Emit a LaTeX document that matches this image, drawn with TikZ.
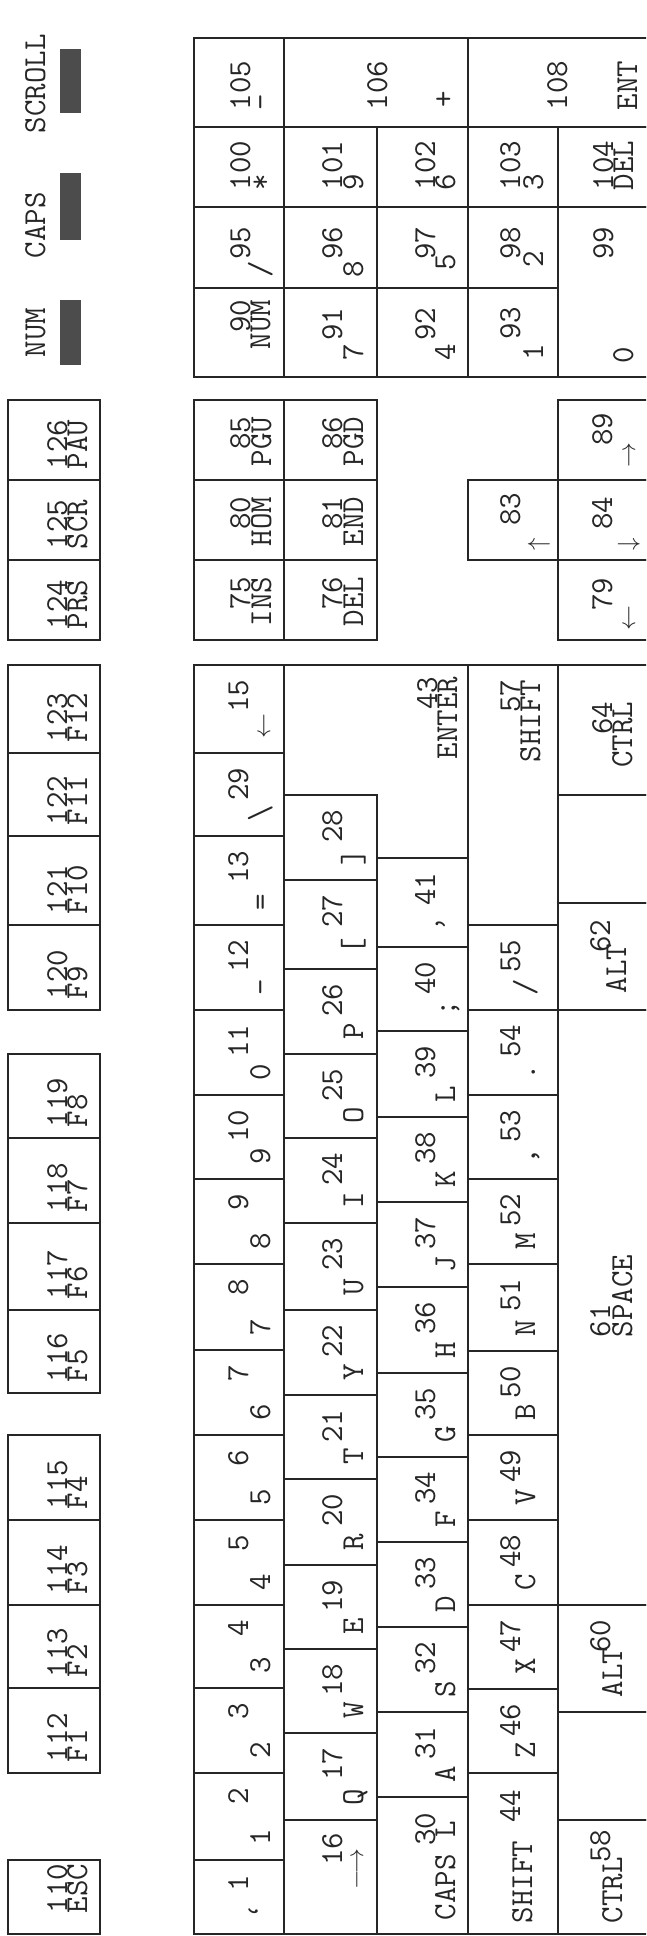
\documentclass[tikz,border=0pt]{standalone}
\usepackage{fontspec}
\newcommand\kf{\ttfamily\fontsize{32}{32}\selectfont\addfontfeature{LetterSpace=9,FakeBold=1.2}}
\newcounter{lb}
\tikzset{
  kb/.style={draw=black!85, line width=1.6pt},
  led/.style={fill=black!70},
  lbl/.style={font=\kf, inner sep=0pt, outer sep=0pt, rotate=90, text=black!85},
}
% label starting (bottom end) at Y, baseline at X
\newcommand\Lw[3]{\stepcounter{lb}\node[lbl,anchor=base west] (l\arabic{lb}) at (#1,#2) {#3};}
% label ending (top end) at Y
\newcommand\Le[3]{\stepcounter{lb}\node[lbl,anchor=base east] (l\arabic{lb}) at (#1,#2) {#3};}
% function key: top, bottom, number, legend
\newcommand\Fk[4]{\draw[kb] (8,#1) rectangle (100,#2);\Lw{67}{#2-11}{#3}\Lw{87}{#2-11}{#4}}
% nav key: x1,x2,top,bot,numbase,legbase,num,leg (right aligned)
\newcommand\Nk[8]{\draw[kb] (#1,#3) rectangle (#2,#4);\Le{#5}{#3+17}{#7}\Le{#6}{#3+17}{#8}}
% main block keys: top, bottom, legend, number
\newcommand\Kg[8]{\draw[kb] (#1,#5) rectangle (#2,#6);\Le{#3}{#5+15}{#8}\Lw{#4}{#6-15}{#7}}
\newcommand\Ra[4]{\Kg{194}{284}{248}{270}{#1}{#2}{#3}{#4}}
\newcommand\Rb[4]{\Kg{284}{377}{342}{363}{#1}{#2}{#3}{#4}}
\newcommand\Rc[4]{\Kg{377}{468}{435}{455}{#1}{#2}{#3}{#4}}
\newcommand\Rd[4]{\Kg{468}{558}{520}{535}{#1}{#2}{#3}{#4}}
\begin{document}
\begin{tikzpicture}[x=1pt,y=-1pt]
\useasboundingbox (0,0) rectangle (646,1936);
\clip (0,0) rectangle (646,1936);

% ---------- indicator lights ----------
\Lw{45}{133}{SCROLL}
\fill[led] (60,49) rectangle (81,113);
\Lw{45}{258}{CAPS}
\fill[led] (60,173) rectangle (81,240);
\Lw{45}{357}{NUM}
\fill[led] (60,300) rectangle (81,365);

% ---------- function row ----------
\draw[kb] (8,1860) rectangle (100,1934);
\Lw{67}{1913}{110}\Lw{87}{1913}{ESC}
\Fk{1688}{1773}{112}{F1}
\Fk{1605}{1688}{113}{F2}
\Fk{1520}{1605}{114}{F3}
\Fk{1435}{1520}{115}{F4}
\Fk{1310}{1393}{116}{F5}
\Fk{1223}{1310}{117}{F6}
\Fk{1138}{1223}{118}{F7}
\Fk{1054}{1138}{119}{F8}
\Fk{925}{1010}{120}{F9}
\Fk{836}{925}{121}{F10}
\Fk{753}{836}{122}{F11}
\Fk{665}{753}{123}{F12}
\Fk{560}{640}{124}{PRS}
\Fk{480}{560}{125}{SCR}
\Fk{400}{480}{126}{PAU}

% ---------- navigation block ----------
\Nk{194}{284}{560}{640}{250}{271}{75}{INS}
\Nk{194}{284}{480}{560}{250}{271}{80}{HOM}
\Nk{194}{284}{400}{480}{250}{271}{85}{PGU}
\Nk{284}{377}{560}{640}{342}{363}{76}{DEL}
\Nk{284}{377}{480}{560}{342}{363}{81}{END}
\Nk{284}{377}{400}{480}{342}{363}{86}{PGD}

% ---------- arrow keys ----------
\draw[kb] (468,480) rectangle (558,560);
\Le{520}{493}{83}\Lw{545}{550}{\(\uparrow\)}
\draw[kb] (558,560) rectangle (648,640);
\Le{612}{578}{79}\Lw{635}{630}{\(\leftarrow\)}
\draw[kb] (558,480) rectangle (648,560);
\Le{612}{497}{84}\Lw{635}{550}{\(\downarrow\)}
\draw[kb] (558,400) rectangle (648,480);
\Le{612}{413}{89}\Lw{635}{467}{\(\rightarrow\)}

% ---------- numeric keypad ----------
\draw[kb] (194,288) rectangle (284,377);
\Le{250}{300}{90}\Le{270}{300}{NUM}
\draw[kb] (194,207) rectangle (284,288);
\Le{250}{227}{95}\Lw{270}{277}{/}
\draw[kb] (194,127) rectangle (284,207);
\Lw{250}{190}{100}\Lw{270}{190}{*}
\draw[kb] (194,38) rectangle (284,127);
\Lw{250}{110}{105}\Lw{270}{110}{-}

\draw[kb] (284,288) rectangle (377,377);
\Le{342}{308}{91}\Lw{363}{360}{7}
\draw[kb] (284,207) rectangle (377,288);
\Le{342}{227}{96}\Lw{363}{277}{8}
\draw[kb] (284,127) rectangle (377,207);
\Lw{342}{190}{101}\Lw{363}{190}{9}
\draw[kb] (284,38) rectangle (468,127);
\Lw{387}{110}{106}\Lw{453}{107}{+}

\draw[kb] (377,288) rectangle (468,377);
\Le{435}{308}{92}\Lw{455}{360}{4}
\draw[kb] (377,207) rectangle (468,288);
\Le{435}{227}{97}\Lw{455}{270}{5}
\draw[kb] (377,127) rectangle (468,207);
\Lw{435}{190}{102}\Lw{455}{190}{6}

\draw[kb] (468,288) rectangle (558,377);
\Le{520}{307}{93}\Lw{543}{360}{1}
\draw[kb] (468,207) rectangle (558,288);
\Le{520}{227}{98}\Lw{543}{267}{2}
\draw[kb] (468,127) rectangle (558,207);
\Lw{520}{190}{103}\Lw{543}{190}{3}
\draw[kb] (468,38) rectangle (648,127);
\Lw{567}{110}{108}\Lw{637}{110}{ENT}

\draw[kb] (558,207) rectangle (648,377);
\Le{613}{227}{99}\Lw{633}{363}{0}
\draw[kb] (558,127) rectangle (648,207);
\Lw{613}{190}{104}\Lw{633}{190}{DEL}

% ---------- main block, row 1 ----------
\Ra{1860}{1934}{‘}{1}
\Ra{1773}{1860}{1}{2}
\Ra{1688}{1773}{2}{3}
\Ra{1605}{1688}{3}{4}
\Ra{1520}{1605}{4}{5}
\Ra{1435}{1520}{5}{6}
\Ra{1350}{1435}{6}{7}
\Ra{1264}{1350}{7}{8}
\Ra{1179}{1264}{8}{9}
\Ra{1095}{1179}{9}{10}
\Ra{1010}{1095}{0}{11}
\Ra{925}{1010}{-}{12}
\Ra{836}{925}{=}{13}
\Ra{753}{836}{\textbackslash}{29}
\Ra{665}{753}{\(\leftarrow\)}{15}

% ---------- row 2 ----------
\draw[kb] (284,1820) rectangle (377,1934);
\Le{342}{1833}{16}\Lw{363}{1889}{\(\longrightarrow\)}
\Rb{1733}{1820}{Q}{17}
\Rb{1649}{1733}{W}{18}
\Rb{1565}{1649}{E}{19}
\Rb{1479}{1565}{R}{20}
\Rb{1395}{1479}{T}{21}
\Rb{1310}{1395}{Y}{22}
\Rb{1223}{1310}{U}{23}
\Rb{1138}{1223}{I}{24}
\Rb{1054}{1138}{O}{25}
\Rb{969}{1054}{P}{26}
\Rb{880}{969}{[}{27}
\Rb{795}{880}{]}{28}

% ---------- row 3 ----------
\draw[kb] (377,1797) rectangle (468,1934);
\Lw{455}{1920}{CAPS L}\Le{435}{1813}{30}
\Rc{1712}{1797}{A}{31}
\Rc{1627}{1712}{S}{32}
\Rc{1542}{1627}{D}{33}
\Rc{1457}{1542}{F}{34}
\Rc{1373}{1457}{G}{35}
\Rc{1287}{1373}{H}{36}
\Rc{1202}{1287}{J}{37}
\Rc{1117}{1202}{K}{38}
\Rc{1031}{1117}{L}{39}
\Rc{947}{1031}{;}{40}
\Rc{858}{947}{’}{41}
% enter
\draw[kb] (284,665) -- (284,795) -- (377,795) -- (377,858) -- (468,858) -- (468,665) -- cycle;
\Le{457}{677}{ENTER}\Le{437}{677}{43}

% ---------- row 4 ----------
\draw[kb] (468,1773) rectangle (558,1934);
\Lw{532}{1923}{SHIFT}\Le{520}{1790}{44}
\Rd{1689}{1773}{Z}{46}
\Rd{1605}{1689}{X}{47}
\Rd{1520}{1605}{C}{48}
\Rd{1435}{1520}{V}{49}
\Rd{1351}{1435}{B}{50}
\Rd{1264}{1351}{N}{51}
\Rd{1179}{1264}{M}{52}
\Rd{1095}{1179}{,}{53}
\Rd{1010}{1095}{.}{54}
\Rd{925}{1010}{/}{55}
\draw[kb] (468,665) rectangle (558,925);
\Le{540}{680}{SHIFT}\Le{520}{680}{57}

% ---------- row 5 ----------
\draw[kb] (558,1820) rectangle (648,1934);
\Lw{622}{1923}{CTRL}\Le{610}{1830}{58}
\draw[kb] (558,1712) rectangle (648,1820);
\draw[kb] (558,1605) rectangle (648,1712);
\Lw{622}{1697}{ALT}\Le{610}{1620}{60}
\draw[kb] (558,1010) rectangle (648,1605);
\Lw{610}{1337}{61}\Lw{632}{1337}{SPACE}
\draw[kb] (558,903) rectangle (648,1010);
\Lw{626}{993}{ALT}\Le{610}{920}{62}
\draw[kb] (558,795) rectangle (648,903);
\draw[kb] (558,665) rectangle (648,795);
\Le{632}{702}{CTRL}\Le{612}{702}{64}
\end{tikzpicture}
\end{document}
